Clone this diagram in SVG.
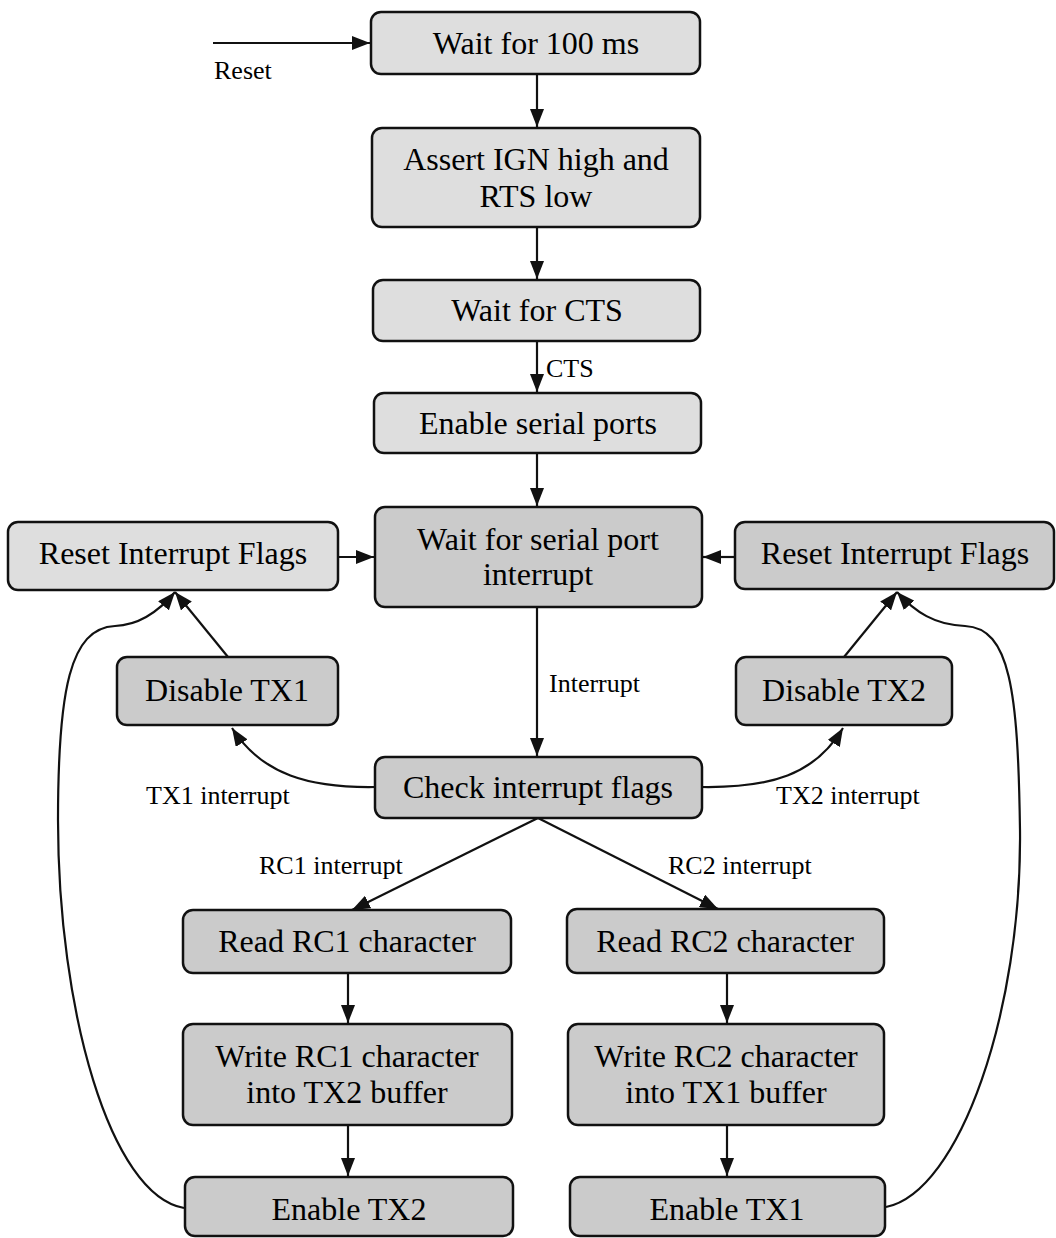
<svg xmlns="http://www.w3.org/2000/svg" width="1056" height="1238" viewBox="0 0 1056 1238">
  <style>
    .box { stroke: #111; stroke-width: 2.5; }
    .light { fill: #dedede; }
    .dark { fill: #cbcbcb; }
    .t { font-family: "Liberation Serif", "Times New Roman", serif; font-size: 32px; fill: #000; text-anchor: middle; }
    .lbl { font-family: "Liberation Serif", "Times New Roman", serif; font-size: 26px; fill: #000; }
    .c { fill: none; stroke: #111; stroke-width: 2.2; }
  </style>
  <defs>
    <marker id="ah" viewBox="0 0 18 14" refX="18" refY="7" markerWidth="18" markerHeight="14" markerUnits="userSpaceOnUse" orient="auto">
      <path d="M0,0 L18,7 L0,14 z" fill="#111"/>
    </marker>
  </defs>
  <rect width="1056" height="1238" fill="#ffffff"/>

  <!-- connectors -->
  <g id="connectors">
    <path class="c" d="M213,43 L370,43" marker-end="url(#ah)"/>
    <path class="c" d="M537,74 L537,127" marker-end="url(#ah)"/>
    <path class="c" d="M537,227 L537,279" marker-end="url(#ah)"/>
    <path class="c" d="M537,341 L537,392" marker-end="url(#ah)"/>
    <path class="c" d="M537,453 L537,506" marker-end="url(#ah)"/>
    <path class="c" d="M537,607 L537,756" marker-end="url(#ah)"/>
    <path class="c" d="M338,557 L374,557" marker-end="url(#ah)"/>
    <path class="c" d="M735,557 L703,557" marker-end="url(#ah)"/>
    <path class="c" d="M375,787 C310,788 262,775 232,728" marker-end="url(#ah)"/>
    <path class="c" d="M702,787 C770,788 815,775 843,728" marker-end="url(#ah)"/>
    <path class="c" d="M228,657 L175,592" marker-end="url(#ah)"/>
    <path class="c" d="M844,657 L897,592" marker-end="url(#ah)"/>
    <path class="c" d="M538,818 L352,910" marker-end="url(#ah)"/>
    <path class="c" d="M538,818 L718,909" marker-end="url(#ah)"/>
    <path class="c" d="M348,973 L348,1023" marker-end="url(#ah)"/>
    <path class="c" d="M348,1125 L348,1176" marker-end="url(#ah)"/>
    <path class="c" d="M727,973 L727,1023" marker-end="url(#ah)"/>
    <path class="c" d="M727,1125 L727,1176" marker-end="url(#ah)"/>
    <path class="c" d="M184,1208 C110,1195 58,1010 58,820 C58,690 70,628 115,626 C140,625 160,610 175,592" marker-end="url(#ah)"/>
    <path class="c" d="M886,1207 C960,1192 1022,1010 1020,830 C1018,690 1010,628 965,626 C935,625 915,612 897,592" marker-end="url(#ah)"/>
    <text class="lbl" x="214" y="79">Reset</text>
    <text class="lbl" x="546" y="377">CTS</text>
    <text class="lbl" x="549" y="692">Interrupt</text>
    <text class="lbl" x="146" y="804">TX1 interrupt</text>
    <text class="lbl" x="776" y="804">TX2 interrupt</text>
    <text class="lbl" x="259" y="874">RC1 interrupt</text>
    <text class="lbl" x="668" y="874">RC2 interrupt</text>
  </g>

  <!-- process steps -->
  <g id="wait100">
    <rect class="box light" x="371" y="12" width="329" height="62" rx="10"/>
    <text class="t" x="536" y="54">Wait for 100 ms</text>
  </g>
  <g id="assert">
    <rect class="box light" x="372" y="128" width="328" height="99" rx="10"/>
    <text class="t" x="536" y="170">Assert IGN high and</text>
    <text class="t" x="536" y="207">RTS low</text>
  </g>
  <g id="waitcts">
    <rect class="box light" x="373" y="280" width="327" height="61" rx="10"/>
    <text class="t" x="537" y="321">Wait for CTS</text>
  </g>
  <g id="enableports">
    <rect class="box light" x="374" y="393" width="327" height="60" rx="10"/>
    <text class="t" x="538" y="434">Enable serial ports</text>
  </g>
  <g id="waitint">
    <rect class="box dark" x="375" y="507" width="327" height="100" rx="10"/>
    <text class="t" x="538" y="550">Wait for serial port</text>
    <text class="t" x="538" y="585">interrupt</text>
  </g>
  <g id="resetleft">
    <rect class="box light" x="8" y="522" width="330" height="68" rx="10"/>
    <text class="t" x="173" y="564">Reset Interrupt Flags</text>
  </g>
  <g id="resetright">
    <rect class="box dark" x="735" y="522" width="319" height="67" rx="10"/>
    <text class="t" x="895" y="564">Reset Interrupt Flags</text>
  </g>
  <g id="disabletx1">
    <rect class="box dark" x="117" y="657" width="221" height="68" rx="10"/>
    <text class="t" x="227" y="701">Disable TX1</text>
  </g>
  <g id="disabletx2">
    <rect class="box dark" x="736" y="657" width="216" height="68" rx="10"/>
    <text class="t" x="844" y="701">Disable TX2</text>
  </g>
  <g id="checkflags">
    <rect class="box dark" x="375" y="757" width="327" height="61" rx="10"/>
    <text class="t" x="538" y="798">Check interrupt flags</text>
  </g>
  <g id="readrc1">
    <rect class="box dark" x="183" y="910" width="328" height="63" rx="10"/>
    <text class="t" x="347" y="952">Read RC1 character</text>
  </g>
  <g id="writerc1">
    <rect class="box dark" x="183" y="1024" width="329" height="101" rx="10"/>
    <text class="t" x="347" y="1067">Write RC1 character</text>
    <text class="t" x="347" y="1103">into TX2 buffer</text>
  </g>
  <g id="enabletx2">
    <rect class="box dark" x="185" y="1177" width="328" height="59" rx="10"/>
    <text class="t" x="349" y="1220">Enable TX2</text>
  </g>
  <g id="readrc2">
    <rect class="box dark" x="567" y="909" width="317" height="64" rx="10"/>
    <text class="t" x="725" y="952">Read RC2 character</text>
  </g>
  <g id="writerc2">
    <rect class="box dark" x="568" y="1024" width="316" height="101" rx="10"/>
    <text class="t" x="726" y="1067">Write RC2 character</text>
    <text class="t" x="726" y="1103">into TX1 buffer</text>
  </g>
  <g id="enabletx1">
    <rect class="box dark" x="570" y="1177" width="315" height="59" rx="10"/>
    <text class="t" x="727" y="1220">Enable TX1</text>
  </g>
</svg>
